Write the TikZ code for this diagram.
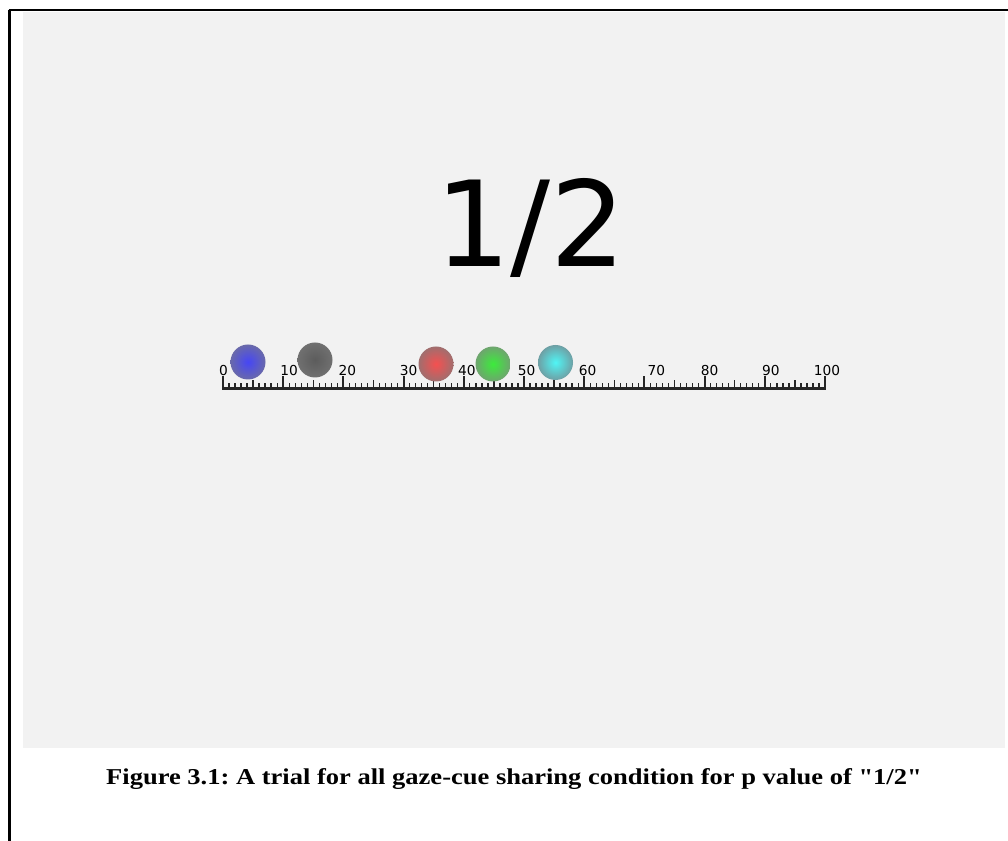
\documentclass[tikz,border=0pt]{standalone}
\usepackage{fontspec}
\setmainfont{Liberation Serif}
\newfontfamily\rulerfont{DejaVu Sans}
\usepackage{tikz}
\usetikzlibrary{positioning,calc}
\definecolor{panelgris}{RGB}{242,242,242}
\definecolor{bleuc}{RGB}{70,70,245}
\definecolor{bleub}{RGB}{105,105,170}
\definecolor{grisc}{RGB}{92,92,92}
\definecolor{grisb}{RGB}{112,112,112}
\definecolor{rougec}{RGB}{245,80,80}
\definecolor{rougeb}{RGB}{160,110,110}
\definecolor{vertc}{RGB}{60,235,60}
\definecolor{vertb}{RGB}{110,165,110}
\definecolor{cyanc}{RGB}{80,245,245}
\definecolor{cyanb}{RGB}{110,160,165}
\tikzset{
  ball/.style={
    circle, minimum size=26.25pt, inner sep=0pt
  },
  ticklabel/.style={
    anchor=base, inner sep=0pt, font=\rulerfont\fontsize{10.3}{12}\selectfont
  },
  rulerline/.style={line width=2.25pt, black!85},
  majortick/.style={line width=1.5pt, black!85},
  minortick/.style={line width=1pt, black!85}
}
\frenchspacing

\begin{document}
\begin{tikzpicture}[x=0.75pt, y=-0.75pt]
  \useasboundingbox (0,0) rectangle (1008,841);

  % Page frame and screen
  \fill[panelgris] (23,12) rectangle (1005,748);
  \draw[line width=1.9pt] (9.5,841) -- (9.5,10.5);
  \draw[line width=1.5pt] (8.5,10.5) -- (1008,10.5);

  % Probability
  \node[anchor=base, inner sep=0pt, font=\rulerfont\fontsize{89}{100}\selectfont] (proba) at (531,267) {1/2};

  % Ruler
  \coordinate (r0) at (223,389);
  \coordinate (r100) at (825,389);
  \draw[rulerline] ($(r0)+(-1,0)$) -- ($(r100)+(1,0)$);
  \foreach \v in {0,...,100}
    \draw[minortick] ($(r0)!\v/100!(r100)$) -- ++(0,-5.5);
  \foreach \v in {5,15,...,95}
    \draw[minortick] ($(r0)!\v/100!(r100)$) -- ++(0,-8.5);
  \foreach \v in {0,10,...,100}
    \draw[majortick] ($(r0)!\v/100!(r100)$) -- ++(0,-13);

  % Tick labels
  \foreach \v/\dx in {0/0.5,10/6,20/4,30/5,40/3,50/2.5,60/3.5,70/12,80/5,90/6,100/2}
    \node[ticklabel] (lab\v) at ($(r0)!\v/100!(r100)+(\dx,-13)$) {\v};

  % Gaze cues
  \node[ball, inner color=bleuc, outer color=bleub] (bleu) at (248,362) {};
  \node[ball, inner color=grisc, outer color=grisb] (gris) at (315,360) {};
  \node[ball, inner color=rougec, outer color=rougeb] (rouge) at (436,364) {};
  \node[ball, inner color=vertc, outer color=vertb] (vert) at (493,364) {};
  \node[ball, inner color=cyanc, outer color=cyanb] (cyan) at (555.5,362.5) {};

  % Caption
  \node[anchor=base, inner sep=0pt, xscale=1.17, transform shape,
        font=\bfseries\fontsize{17}{20}\selectfont] (legende) at (514,784)
    {Figure 3.1: A trial for all gaze-cue sharing condition for p value of \textquotedbl 1/2\textquotedbl};
\end{tikzpicture}
\end{document}
